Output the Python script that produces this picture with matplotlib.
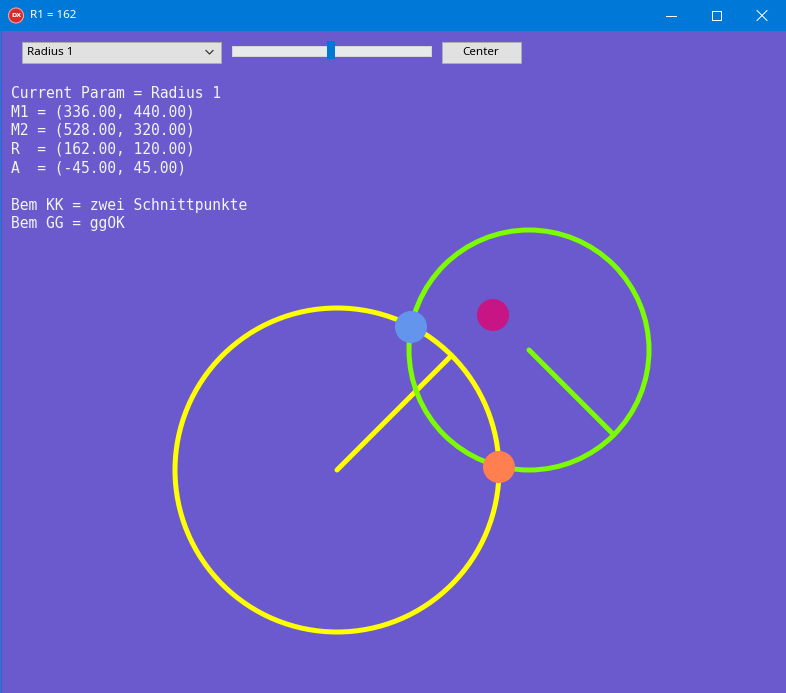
import numpy as np
import matplotlib
matplotlib.use("Agg")
import matplotlib.pyplot as plt
from matplotlib.patches import Circle, Rectangle

# ---- data ----
title = "R1 = 162"
combo_text = "Radius 1"
button_text = "Center"
centers_x = [336.0, 528.0]
centers_y = [440.0, 320.0]
radii = [162.0, 120.0]
angles_deg = [-45.0, 45.0]
circle_colors = ["#FFFF00", "#7CFC00"]
info_lines = [
    "Current Param = Radius 1",
    "M1 = (336.00, 440.00)",
    "M2 = (528.00, 320.00)",
    "R  = (162.00, 120.00)",
    "A  = (-45.00, 45.00)",
    "",
    "Bem KK = zwei Schnittpunkte",
    "Bem GG = ggOK",
]
dots_x = [410.0, 498.0, 492.0]
dots_y = [297.0, 437.0, 285.0]
dot_colors = ["#6495ED", "#FF7F50", "#C71585"]
slider_pos = 0.5

W, H = 786, 693
fig = plt.figure(figsize=(W / 100, H / 100), dpi=100)
ax = fig.add_axes([0, 0, 1, 1])
ax.set_xlim(0, W)
ax.set_ylim(H, 0)
ax.axis("off")
PX = 0.72  # points per pixel

# background client area
ax.add_patch(Rectangle((0, 0), W, H, facecolor="#6A5ACD", edgecolor="none", zorder=0))
# border
ax.add_patch(Rectangle((0.5, 0.5), W - 1, H - 1, facecolor="none", edgecolor="#0078D7",
                       lw=1 * PX, zorder=20))
# title bar
ax.add_patch(Rectangle((0, 0), W, 31, facecolor="#0078D7", edgecolor="none", zorder=1))
ax.add_patch(Circle((16, 15.5), 7.5, facecolor="#D92B2B", edgecolor="#F0A0A0", lw=0.8, zorder=2))
ax.text(16, 15.8, "DX", color="white", fontsize=4.5, fontweight="bold",
        ha="center", va="center", family="DejaVu Sans", zorder=3)
ax.text(30, 16, title, color="white", fontsize=8.4, ha="left", va="center",
        family="Noto Sans", zorder=3)
# window buttons
ax.plot([666, 676], [15.5, 15.5], color="white", lw=1 * PX, zorder=3)
ax.add_patch(Rectangle((711.5, 11), 9, 9, facecolor="none", edgecolor="white", lw=1 * PX, zorder=3))
ax.plot([757, 767], [10.5, 20.5], color="white", lw=1 * PX, zorder=3)
ax.plot([757, 767], [20.5, 10.5], color="white", lw=1 * PX, zorder=3)

# combo box
ax.add_patch(Rectangle((21.5, 41.5), 199, 21, facecolor="#E1E1E1", edgecolor="#ADADAD",
                       lw=1 * PX, zorder=3))
ax.text(27, 52.5, combo_text, color="black", fontsize=8.4, ha="left", va="center",
        family="Noto Sans", zorder=4)
ax.plot([206, 209.5, 213], [50.5, 54, 50.5], color="#333333", lw=1.2 * PX, zorder=4)

# slider
ax.add_patch(Rectangle((231.5, 45.5), 199, 10, facecolor="#E7EAEA", edgecolor="#D6D6D6",
                       lw=1 * PX, zorder=3))
tx = 231 + slider_pos * 192
ax.add_patch(Rectangle((tx, 41), 8, 18, facecolor="#0078D7", edgecolor="none", zorder=4))

# button
ax.add_patch(Rectangle((441.5, 41.5), 79, 21, facecolor="#E1E1E1", edgecolor="#ADADAD",
                       lw=1 * PX, zorder=3))
ax.text(481, 52.5, button_text, color="black", fontsize=8.4, ha="center", va="center",
        family="Noto Sans", zorder=4)

# info text
for i, line in enumerate(info_lines):
    ax.text(11, 93 + i * 18.7, line, color="#F4F4F4", fontsize=10.55, ha="left", va="center",
            family="DejaVu Sans Mono", zorder=5)

# geometry (client coords -> screen)
ox, oy = 1, 30
for k in [1, 0]:
    cx, cy, r = centers_x[k] + ox, centers_y[k] + oy, radii[k]
    ax.add_patch(Circle((cx, cy), r, facecolor="none", edgecolor=circle_colors[k],
                        lw=5 * PX, zorder=6 + k))
    a = np.deg2rad(angles_deg[k])
    ax.plot([cx, cx + r * np.cos(a)], [cy, cy + r * np.sin(a)], color=circle_colors[k],
            lw=5 * PX, solid_capstyle="round", zorder=6 + k)

for x, y, c in zip(dots_x, dots_y, dot_colors):
    ax.add_patch(Circle((x + ox, y + oy), 16, facecolor=c, edgecolor="none", zorder=10))

fig.savefig("out.png", dpi=100)
